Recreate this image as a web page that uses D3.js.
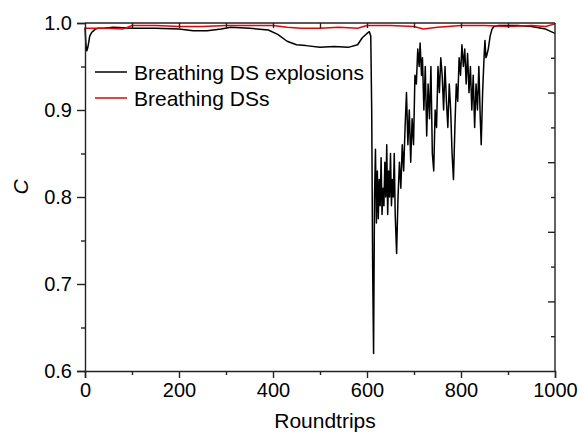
<!DOCTYPE html>
<html>
<head>
<meta charset="utf-8">
<script src="https://cdn.jsdelivr.net/npm/d3@7"></script>
<style>
  body { margin: 0; background: #fff; }
  text { font-family: "Liberation Sans", Arial, sans-serif; fill: #000; }
  .axis path, .axis line { stroke: #222; stroke-width: 1.4; }
</style>
</head>
<body>
<div id="graph"></div>
<script>
// Breathing DS explosions (black)
const explosionX = [0,2,4,6,8,10,14,18,22,28,40,60,100,150,200,230,260,290,310,350,390,410,430,450,470,500,530,560,580,590,600,605,608,
  610,612,614,616,618,620,622,624,626,628,630,632,634,636,638,640,642,644,646,648,650,652,654,656,658,660,663,666,669,672,675,678,681,684,687,690,693,696,699,
  702,705,708,711,713,716,718,721,724,727,730,733,736,739,742,745,748,751,754,757,760,763,766,769,772,775,778,781,784,787,790,793,796,799,
  802,805,808,811,814,817,820,823,826,829,832,835,838,841,843,846,849,851,853,855,858,862,866,870,880,920,950,980,1000]
const explosionC = [0.995,0.975,0.968,0.972,0.978,0.985,0.989,0.991,0.993,0.994,0.994,0.995,0.994,0.994,0.993,0.991,0.991,0.993,0.995,0.994,0.992,0.987,0.979,0.975,0.974,0.972,0.973,0.972,0.975,0.983,0.988,0.990,0.985,
  0.90,0.72,0.62,0.80,0.855,0.77,0.83,0.775,0.82,0.79,0.845,0.78,0.81,0.79,0.84,0.80,0.86,0.78,0.83,0.80,0.85,0.79,0.82,0.80,0.85,0.78,0.735,0.80,0.84,0.81,0.86,0.83,0.88,0.92,0.86,0.90,0.84,0.89,0.86,
  0.94,0.93,0.97,0.95,0.977,0.94,0.96,0.90,0.95,0.87,0.93,0.89,0.95,0.85,0.83,0.90,0.88,0.95,0.92,0.96,0.94,0.90,0.95,0.91,0.88,0.93,0.90,0.85,0.82,0.88,0.93,0.91,0.96,0.94,
  0.975,0.95,0.97,0.93,0.965,0.92,0.95,0.90,0.94,0.88,0.93,0.90,0.95,0.89,0.86,0.92,0.96,0.98,0.96,0.963,0.97,0.985,0.993,0.996,0.997,0.997,0.996,0.993,0.988]

// Breathing DSs (red)
const breathingX = [0,20,50,80,90,100,150,200,250,300,350,400,430,460,500,540,580,600,620,650,700,720,750,800,850,900,950,980,1000]
const breathingC = [0.994,0.994,0.994,0.993,0.995,0.997,0.997,0.996,0.996,0.997,0.997,0.997,0.995,0.994,0.994,0.995,0.994,0.997,0.997,0.997,0.996,0.993,0.995,0.997,0.997,0.996,0.997,0.996,0.999]

const seriesNames = ['Breathing DS explosions', 'Breathing DSs']
const xTicks = [0,200,400,600,800,1000]
const yTicks = [0.6,0.7,0.8,0.9,1.0]

const width = 581, height = 433
const margin = {left: 85, right: 26, top: 23, bottom: 62}

const svg = d3.select('#graph').append('svg')
  .attr('width', width).attr('height', height)

const xScale = d3.scaleLinear().domain([0,1000]).range([margin.left, width - margin.right])
const yScale = d3.scaleLinear().domain([0.6,1.0]).range([height - margin.bottom, margin.top])
// right axis in the original has its own tick spacing
const yRight = d3.scaleLinear().domain([0,1]).range([height - margin.bottom, margin.top])

const x0 = margin.left, x1 = width - margin.right
const y0 = height - margin.bottom, y1 = margin.top

// lines
const black = explosionX.map((d,i) => [d, explosionC[i]])
const red = breathingX.map((d,i) => [d, breathingC[i]])
const line = d3.line().x(d => xScale(d[0])).y(d => yScale(d[1]))

svg.append('path').datum(black)
  .attr('fill','none').attr('stroke','#000').attr('stroke-width',1.5)
  .attr('stroke-linejoin','round').attr('d', line)
svg.append('path').datum(red)
  .attr('fill','none').attr('stroke','#ee0000').attr('stroke-width',1.5)
  .attr('d', line)

// bottom axis
svg.append('g').attr('class','axis')
  .attr('transform', `translate(0,${y0})`)
  .call(d3.axisBottom(xScale).tickValues(xTicks).tickSize(7).tickPadding(5).tickFormat(d3.format('d')))
  .call(g => g.selectAll('text').attr('font-size', 20))
svg.append('g').attr('class','axis')
  .attr('transform', `translate(0,${y0})`)
  .call(d3.axisBottom(xScale).tickValues(d3.range(100,1000,200)).tickSize(4).tickFormat(''))
  .call(g => g.select('.domain').remove())

// left axis
svg.append('g').attr('class','axis')
  .attr('transform', `translate(${x0},0)`)
  .call(d3.axisLeft(yScale).tickValues(yTicks).tickSize(8).tickPadding(5).tickFormat(d3.format('.1f')))
  .call(g => g.selectAll('text').attr('font-size', 20))
svg.append('g').attr('class','axis')
  .attr('transform', `translate(${x0},0)`)
  .call(d3.axisLeft(yScale).tickValues([0.65,0.75,0.85,0.95]).tickSize(4).tickFormat(''))
  .call(g => g.select('.domain').remove())

// top axis, ticks inward
svg.append('g').attr('class','axis')
  .attr('transform', `translate(0,${y1})`)
  .call(d3.axisTop(xScale).tickValues(d3.range(100,1000,100)).tickSize(-5).tickFormat(''))
  .call(g => g.select('.domain').attr('d', `M${x0},0H${x1}`))

// right axis, ticks inward
svg.append('g').attr('class','axis')
  .attr('transform', `translate(${x1},0)`)
  .call(d3.axisRight(yRight).tickValues([0.2,0.4,0.6,0.8]).tickSize(-7).tickFormat(''))
  .call(g => g.select('.domain').attr('d', `M0,${y0}V${y1}`))
svg.append('g').attr('class','axis')
  .attr('transform', `translate(${x1},0)`)
  .call(d3.axisRight(yRight).tickValues([0.1,0.3,0.5,0.7,0.9]).tickSize(-4).tickFormat(''))
  .call(g => g.select('.domain').remove())

// axis labels
svg.append('text')
  .attr('x', (x0 + x1) / 2 + 5).attr('y', 428)
  .attr('text-anchor','middle').attr('font-size', 21)
  .text('Roundtrips')
svg.append('text')
  .attr('transform', `translate(28,${(y0 + y1) / 2 - 10}) rotate(-90)`)
  .attr('text-anchor','middle').attr('font-size', 21).attr('font-style','italic')
  .text('C')

// legend
const legendColors = ['#000', '#ee0000']
const legend = svg.append('g')
legendColors.forEach((c, i) => {
  const ly = 72 + i * 26
  legend.append('line').attr('x1', 95).attr('x2', 127).attr('y1', ly).attr('y2', ly)
    .attr('stroke', c).attr('stroke-width', 1.5)
  legend.append('text').attr('x', 134).attr('y', ly + 7.5).attr('font-size', 21)
    .text(seriesNames[i])
})
</script>
</body>
</html>
